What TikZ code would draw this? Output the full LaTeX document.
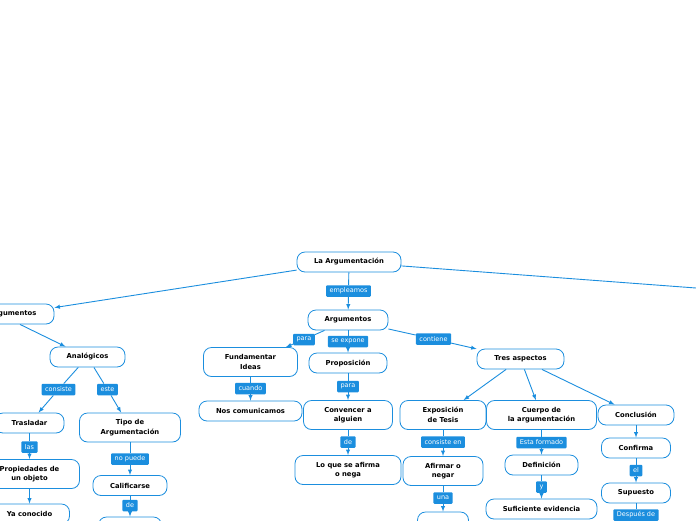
\documentclass[tikz,border=0pt]{standalone}
\usepackage{fontspec}
\setmainfont{DejaVu Sans}
\usepackage{tikz}
\usetikzlibrary{arrows}
\definecolor{mapblue}{HTML}{1B8EDE}

\begin{document}
\begin{tikzpicture}[x=1pt,y=-1pt,>=latex,
item/.style={rectangle,rounded corners=8pt,draw=mapblue,line width=0.8pt,fill=white,
 align=center,font=\fontsize{6.8}{9.5}\selectfont\bfseries,minimum height=20pt,inner sep=1pt},
item2/.style={item,minimum height=29pt},
lbl/.style={rectangle,rounded corners=1pt,fill=mapblue,text=white,
 font=\fontsize{6.5}{7}\selectfont,minimum height=11.5pt,inner xsep=3.5pt,inner ysep=1pt},
line/.style={draw=mapblue,line width=0.9pt}]
 \useasboundingbox (0,0) rectangle (696,520);
 % main nodes
 \node[item,minimum width=104pt] (root) at (349,262) {La Argumentación};
 \node[item,minimum width=82pt] (argL) at (13,314) {Argumentos};
 \node[item,minimum width=80pt] (arg) at (348,320) {Argumentos};
 \node[item,minimum width=75pt] (analog) at (87.5,357) {Analógicos};
 \node[item,minimum width=69pt] (trasl) at (29.5,423) {Trasladar};
 \node[item2,minimum width=100pt] (prop) at (29.5,474) {Propiedades de\\un objeto};
 \node[item,minimum width=80pt] (yacon) at (29.5,514) {Ya conocido};
 \node[item2,minimum width=101pt] (tipo) at (130,427.5) {Tipo de\\Argumentación};
 \node[item,minimum width=74pt] (calif) at (130,485.5) {Calificarse};
 \node[item,minimum width=63pt] (calb) at (130,527) {};
 \node[item2,minimum width=94pt] (fund) at (250.5,362) {Fundamentar\\Ideas};
 \node[item,minimum width=103pt] (nos) at (250.5,411) {Nos comunicamos};
 \node[item,minimum width=78pt] (propo) at (348,363) {Proposición};
 \node[item2,minimum width=89pt] (conv) at (348,415) {Convencer a\\alguien};
 \node[item2,minimum width=106pt] (loque) at (348,470) {Lo que se afirma\\o nega};
 \node[item,minimum width=87pt] (tres) at (520.5,359) {Tres aspectos};
 \node[item2,minimum width=86pt] (expo) at (443,415) {Exposición\\de Tesis};
 \node[item2,minimum width=80pt] (afir) at (443,471) {Afirmar o\\negar};
 \node[item,minimum width=51pt] (afirb) at (443,522) {};
 \node[item2,minimum width=110pt] (cuerpo) at (541.5,415) {Cuerpo de\\la argumentación};
 \node[item,minimum width=73pt] (defi) at (541.5,465) {Definición};
 \node[item,minimum width=111pt] (sufi) at (541.5,509) {Suficiente evidencia};
 \node[item,minimum width=76pt] (concl) at (636,415) {Conclusión};
 \node[item,minimum width=69pt] (confi) at (636,448) {Confirma};
 \node[item,minimum width=69pt] (supu) at (636,493) {Supuesto};
 \coordinate (rightoff) at (720,289.8);
 % labels on the connectors
 \node[lbl] (lempl) at (348.5,291) {empleamos};
 \node[lbl] (lpara) at (304,339.5) {para};
 \node[lbl] (lexpo) at (348,341.5) {se expone};
 \node[lbl] (lcont) at (433.5,339) {contiene};
 \node[lbl] (lcuando) at (250.5,388.5) {cuando};
 \node[lbl] (lpara2) at (348,386.5) {para};
 \node[lbl] (lde) at (348,442) {de};
 \node[lbl] (lconsen) at (443,442) {consiste en};
 \node[lbl] (luna) at (443,498) {una};
 \node[lbl] (lesta) at (541.5,442.5) {Esta formado};
 \node[lbl] (ly) at (541.5,487) {y};
 \node[lbl] (lel) at (636,470.5) {el};
 \node[lbl] (ldesp) at (636,515) {Después de};
 \node[lbl] (lconsiste) at (58.5,389.5) {consiste};
 \node[lbl] (leste) at (107.5,389.5) {este};
 \node[lbl] (llas) at (29.5,447) {las};
 \node[lbl] (lnopuede) at (130,459) {no puede};
 \node[lbl] (lde2) at (130,505.5) {de};
 \foreach \P/\L/\C in {root/lempl/arg, arg/lpara/fund, arg/lexpo/propo, arg/lcont/tres,
  fund/lcuando/nos, propo/lpara2/conv, conv/lde/loque, expo/lconsen/afir, afir/luna/afirb,
  cuerpo/lesta/defi, defi/ly/sufi, confi/lel/supu, analog/lconsiste/trasl, analog/leste/tipo,
  trasl/llas/prop, tipo/lnopuede/calif, calif/lde2/calb}
 {\draw[line] (\P) -- (\L);
  \draw[line,->] (\L) -- (\C);}
 \foreach \P/\C in {root/argL, tres/expo, tres/cuerpo, tres/concl, concl/confi, prop/yacon}
  {\draw[line,->] (\P) -- (\C);}
 \draw[line,->] ([xshift=7pt]argL.south) -- ([xshift=-22pt]analog.north);
 \draw[line] (supu) -- (ldesp);
 \draw[line] (root) -- (rightoff);
\end{tikzpicture}
\end{document}
